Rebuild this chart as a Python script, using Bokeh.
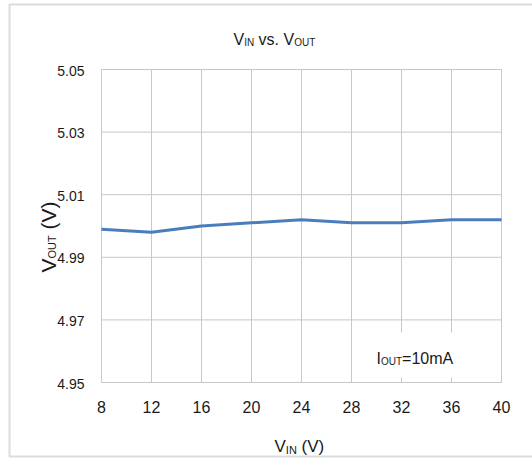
import math
from bokeh.plotting import figure
from bokeh.models import Label, BoxAnnotation, Range1d
from bokeh.embed import file_html
from bokeh.resources import INLINE
from bokeh.core.properties import value

# ---- data ----
vin = [8, 12, 16, 20, 24, 28, 32, 36, 40]
vout = [4.999, 4.998, 5.000, 5.001, 5.002, 5.001, 5.001, 5.002, 5.002]
x_ticks = [8, 12, 16, 20, 24, 28, 32, 36, 40]
x_tick_labels = ["8", "12", "16", "20", "24", "28", "32", "36", "40"]
y_ticks = [4.95, 4.97, 4.99, 5.01, 5.03, 5.05]
y_tick_labels = ["4.95", "4.97", "4.99", "5.01", "5.03", "5.05"]
title_parts = [("V", False), ("IN", True), (" vs. V", False), ("OUT", True)]
xlabel_parts = [("V", False), ("IN", True), (" (V)", False)]
ylabel_parts = [("V", False), ("OUT", True), (" (V)", False)]
note_parts = [("I", False), ("OUT", True), ("=10mA", False)]

FONT = "Liberation Sans"
TXT = "#1a1a1a"
GRID = "#c8c8c8"
LINE = "#4a7ebb"
BORDER = "#8c8c8c"

CW, CH = 532, 458
# plot area in canvas pixels
PL, PR, PT, PB = 101, 501, 69, 382
XMIN, XMAX = x_ticks[0], x_ticks[-1]
YMIN, YMAX = y_ticks[0], y_ticks[-1]
sx = (PR - PL) / (XMAX - XMIN)
sy = (PB - PT) / (YMAX - YMIN)

p = figure(width=CW, height=CH,
           x_range=Range1d(XMIN - PL / sx, XMAX + (CW - PR) / sx),
           y_range=Range1d(YMIN - (CH - PB) / sy, YMAX + PT / sy),
           output_backend="svg", toolbar_location=None,
           x_axis_location=None, y_axis_location=None,
           min_border=0)
p.background_fill_color = "white"
p.border_fill_color = "white"
p.outline_line_color = None
p.grid.grid_line_color = None

# grid lines
p.segment(x0=x_ticks, y0=[YMIN] * len(x_ticks), x1=x_ticks, y1=[YMAX] * len(x_ticks),
          line_color=GRID, line_width=1)
p.segment(x0=[XMIN] * len(y_ticks), y0=y_ticks, x1=[XMAX] * len(y_ticks), y1=y_ticks,
          line_color=GRID, line_width=1)

# data line
p.line(vin, vout, line_color=LINE, line_width=3)

# tick labels
p.text(x=x_ticks, y=[YMIN] * len(x_ticks), text=x_tick_labels, y_offset=18,
       text_align="center", text_baseline="top", text_font=value(FONT),
       text_font_size="16px", text_color=TXT)
p.text(x=[XMIN] * len(y_ticks), y=y_ticks, text=y_tick_labels, x_offset=-17, y_offset=1,
       text_align="right", text_baseline="middle", text_font=value(FONT),
       text_font_size="14px", text_color=TXT)

W = {'V': .667, 'I': .278, 'N': .722, 'O': .778, 'U': .722, 'T': .611, ' ': .278,
     'v': .5, 's': .5, '.': .278, '(': .333, ')': .333, '=': .584, '1': .556,
     '0': .556, 'm': .833, 'A': .667}

def width(t, s):
    return sum(W.get(c, .55) for c in t) * s

def runs(parts, x0, y0, size, subsize, vertical=False, drop=3):
    pos = y0 if vertical else x0
    step = -1 if vertical else 1
    for t, sub in parts:
        s = subsize if sub else size
        lead = len(t) - len(t.lstrip(" "))
        pos += step * width(" " * lead, s)
        t = t.lstrip(" ")
        if vertical:
            lab = Label(x=x0 + (drop if sub else 0), y=pos, x_units="canvas", y_units="canvas",
                        text=t, angle=math.pi / 2,
                        text_font=FONT, text_font_size=f"{s}px", text_color=TXT,
                        text_align="left", text_baseline="alphabetic")
        else:
            lab = Label(x=pos, y=y0 + (drop if sub else 0), x_units="canvas", y_units="canvas",
                        text=t, text_font=FONT, text_font_size=f"{s}px", text_color=TXT,
                        text_align="left", text_baseline="alphabetic")
        pos += step * width(t, s)
        p.add_layout(lab)

# outer chart border
p.add_layout(BoxAnnotation(left=9, right=560, top=4, bottom=456,
                           left_units="canvas", right_units="canvas",
                           top_units="canvas", bottom_units="canvas",
                           fill_alpha=0, line_color=BORDER, line_width=2))
# white box behind the note
p.add_layout(BoxAnnotation(left=356, right=484, top=332, bottom=377,
                           left_units="canvas", right_units="canvas",
                           top_units="canvas", bottom_units="canvas",
                           fill_color="white", fill_alpha=1, line_color=None))

runs(title_parts, 233, 39, 16, 10)
runs(xlabel_parts, 274, 446, 17, 11)
runs(ylabel_parts, 48, 272, 21, 11, vertical=True)
runs(note_parts, 376, 358, 16, 10)

open("out.html", "w").write(file_html(p, INLINE))
